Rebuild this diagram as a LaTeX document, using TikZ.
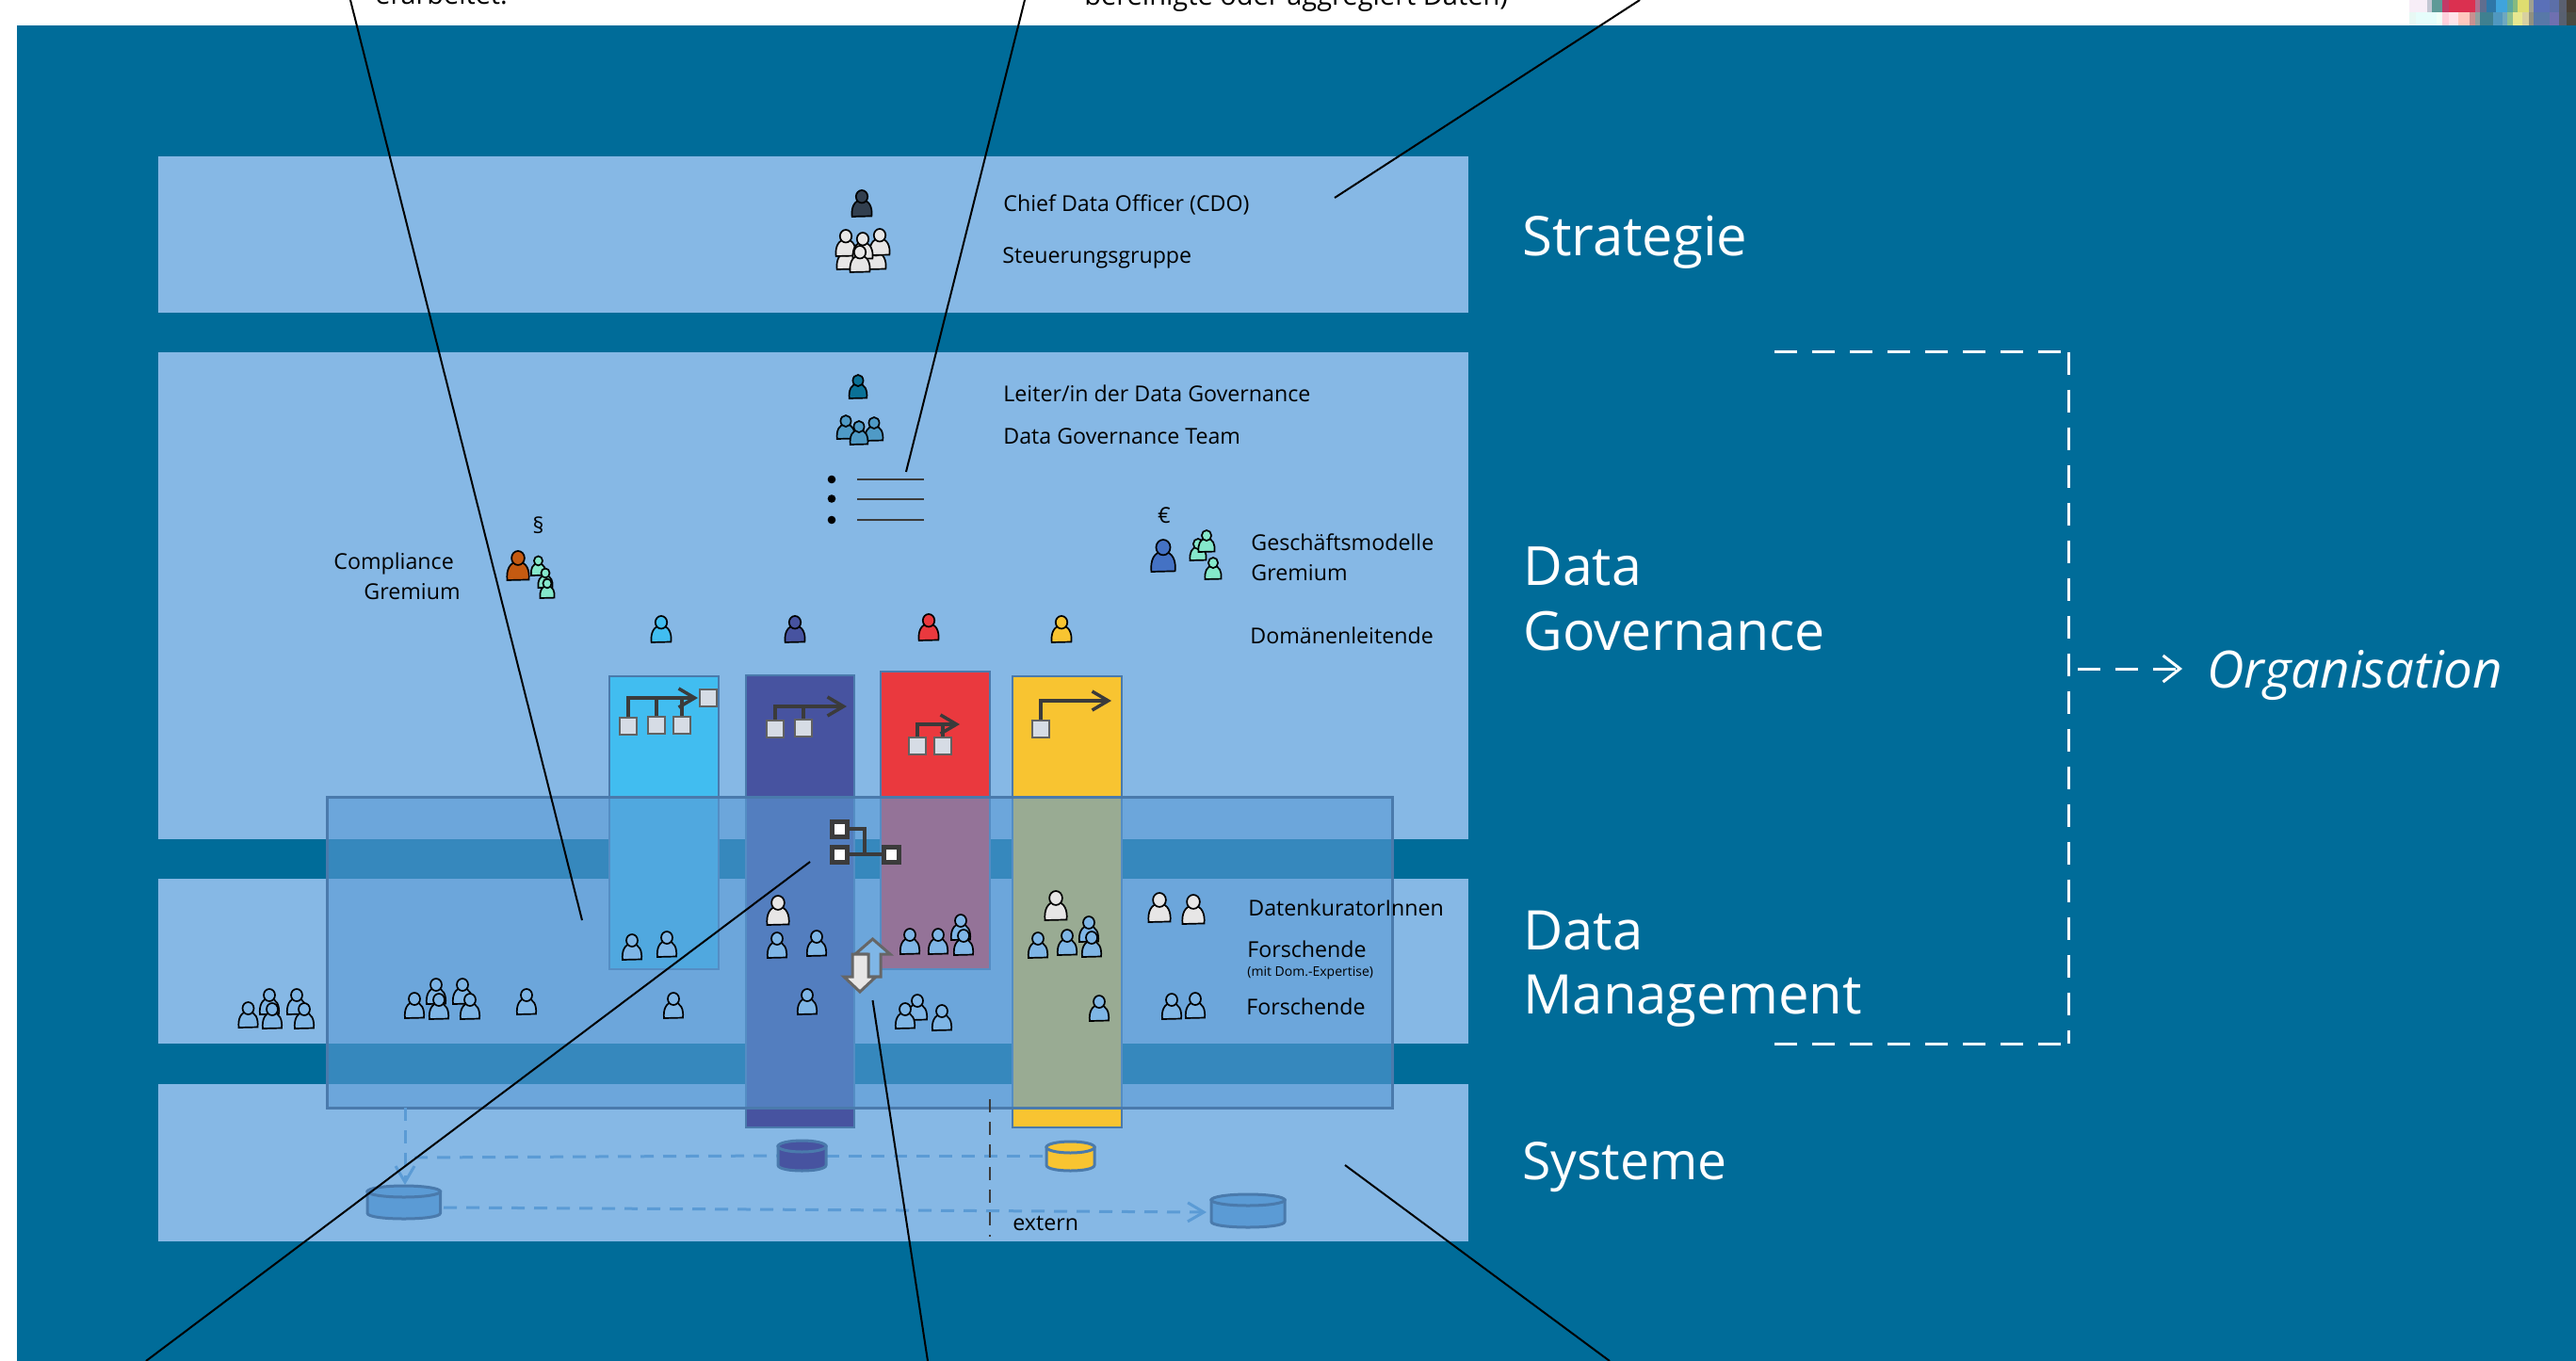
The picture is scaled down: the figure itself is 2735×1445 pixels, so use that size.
\documentclass[tikz,border=0pt]{standalone}
\usepackage{fontspec}
\setmainfont{Open Sans}
\usetikzlibrary{arrows.meta}
\definecolor{tealbg}{HTML}{006C99}
\definecolor{bandblue}{HTML}{86B8E5}
\definecolor{overblue}{HTML}{5B9BD5}
\definecolor{edgeblue}{HTML}{4A7AAC}
\definecolor{pblue}{HTML}{7FB6E6}
\definecolor{pwhite}{HTML}{E7E6E6}
\definecolor{pmint}{HTML}{85E8CB}
\definecolor{pslate}{HTML}{323F4F}
\definecolor{pteal}{HTML}{0A7197}
\definecolor{pteam}{HTML}{4F9AC6}
\definecolor{porange}{HTML}{C55A11}
\definecolor{proyal}{HTML}{4472C4}
\definecolor{colcyan}{HTML}{41BDF0}
\definecolor{colnavy}{HTML}{4753A0}
\definecolor{colred}{HTML}{EA393E}
\definecolor{colyellow}{HTML}{F8C431}
\definecolor{iconbox}{HTML}{D6DCE5}
\definecolor{icondark}{HTML}{3B3B3B}
\tikzset{
  lbl/.style={anchor=west,inner sep=0pt,text=black,font=\fontsize{11.6}{13}\selectfont},
  bigwhite/.style={anchor=base west,inner sep=0pt,text=white,font=\fontsize{29}{32}\selectfont},
  band/.style={fill=bandblue},
  colbox/.style={draw=edgeblue,line width=1.3pt},
  leader/.style={draw=black,line width=1pt},
  flowline/.style={draw=overblue,line width=1.5pt,dash pattern=on 7pt off 5pt},
  whitedash/.style={draw=white,line width=1.5pt,dash pattern=on 12pt off 8pt},
  orgline/.style={draw=icondark,line width=1.75pt},
  orgtip/.style={-{Straight Barb[length=8.5pt,width=10pt]}},
  orgbox/.style={draw=icondark!80,fill=iconbox,line width=1pt},
  netbox/.style={draw=icondark,fill=white,line width=2.5pt},
  updown/.style={draw=black!60,line width=1.5pt,line join=miter},
}
\newcommand{\person}[4]{%
  \begin{scope}[shift={(#1,#2)},scale=#3/27]
    \draw[black,line width=.85pt,fill=#4] (-10,0) .. controls (-11,-9) and (-8,-17) .. (0,-17) .. controls (8,-17) and (11,-9) .. (10,-.5) -- cycle;
    \draw[black,line width=.85pt,fill=#4] (0,-20.5) circle[x radius=6,y radius=6.5];
  \end{scope}}
\newcommand{\drum}[5]{%
  \draw[draw=edgeblue,line width=1.5pt,fill=#5] (#1,#3+6) -- (#1,#4-6) .. controls (#1,#4+2) and (#2,#4+2) .. (#2,#4-6) -- (#2,#3+6) -- cycle;
  \draw[draw=edgeblue,line width=1.5pt,fill=#5] (#1/2+#2/2,#3+6) circle[x radius=#2/2-#1/2,y radius=6];}
\newcommand{\orgsq}[2]{\draw[orgbox] (#1-9,#2-9) rectangle (#1+9,#2+9);}
\begin{document}
\begin{tikzpicture}[x=.5pt,y=-.5pt]
\useasboundingbox (0,0) rectangle (2735,1445);
\fill[tealbg] (18,27) rectangle (2735,1445);
\foreach \xa/\xb/\cc in {2558/2577/F7EEF7,2577/2582/C3C7D3,2582/2593/5E9A97,2593/2600/C23A68,2600/2628/DB3050,2628/2633/B0708F,2633/2640/5F6E8F,2640/2650/2E77A8,2650/2662/3FA4DC,2662/2668/5BA8A0,2668/2673/86BA80,2673/2685/DFDD70,2685/2690/A0A090,2690/2707/5A70B8,2707/2717/5C6FA8,2717/2725/5A6070,2725/2735/4A4035}
  {\definecolor{chip}{HTML}{\cc}\fill[chip] (\xa,0) rectangle (\xb,13.5);}
\foreach \xa/\xb/\cc in {2558/2565/E8F8F4,2565/2587/E6FDFB,2587/2593/F0FFF8,2593/2600/FFD0DC,2600/2610/FFE4EA,2610/2622/FFC8BE,2622/2628/C89090,2628/2633/8FA0A0,2633/2647/3F8090,2647/2657/5098C0,2657/2662/6EA8C0,2662/2668/90C090,2668/2678/E8E890,2678/2685/D8D0A0,2685/2690/909080,2690/2707/5878A8,2707/2717/6F70B0,2717/2725/586070,2725/2735/4A4A40}
  {\definecolor{chip}{HTML}{\cc}\fill[chip] (\xa,13.5) rectangle (\xb,27);}
\node[lbl,anchor=base west,font=\fontsize{14.4}{16}\selectfont] (topa) at (398,5) {erarbeitet.};
\node[lbl,anchor=base west,font=\fontsize{14.5}{16}\selectfont] (topb) at (1151,6) {bereinigte oder aggregiert Daten)};
\fill[band] (168,166) rectangle (1559,332);
\fill[band] (168,374) rectangle (1559,891);
\fill[band] (168,933) rectangle (1559,1108);
\fill[band] (168,1151) rectangle (1559,1318);
\draw[colbox,fill=colcyan] (647,718) rectangle (763,1029);
\draw[colbox,fill=colnavy] (792,717) rectangle (907,1197);
\draw[colbox,fill=colred] (935,713) rectangle (1051,1029);
\draw[colbox,fill=colyellow] (1075,718) rectangle (1191,1197);
\fill[overblue,fill opacity=.6] (347,846) rectangle (1478,1176);
\draw[edgeblue,line width=1.5pt] (347,846) rectangle (1478,1176);
\draw[orgline,orgtip] (667,771) -- (667,741) -- (741,741);
\draw[orgline] (697,741) -- (697,771);
\draw[orgline] (724,741) -- (724,771);
\orgsq{667}{771}\orgsq{697}{770}\orgsq{724}{770}\orgsq{752}{741}
\draw[orgline,orgtip] (823,774) -- (823,750) -- (899,750);
\draw[orgline] (853,750) -- (853,773);
\orgsq{823}{774}\orgsq{853}{773}
\draw[orgline,orgtip] (974,792) -- (974,769) -- (1019,769);
\draw[orgline] (1001,769) -- (1001,792);
\orgsq{974}{792}\orgsq{1001}{792}
\draw[orgline,orgtip] (1105,774) -- (1105,744) -- (1180,744);
\orgsq{1105}{774}
\draw[icondark,line width=2pt] (891,880) -- (918,880) -- (918,907);
\draw[icondark,line width=2pt] (891,907) -- (946,907);
\foreach \nx/\ny in {891/880,891/907,946/907}
  {\draw[netbox] (\nx-8,\ny-8) rectangle (\nx+8,\ny+8);}
\draw[updown,fill=pblue] (926.5,997) -- (945,1013) -- (935,1013) -- (935,1037) -- (920,1037) -- (920,1013) -- (908,1013) -- cycle;
\draw[updown,fill=pwhite] (913,1053) -- (930,1037) -- (922,1037) -- (922,1013) -- (905,1013) -- (905,1037) -- (896,1037) -- cycle;
\person{915}{230}{28}{pslate}
\foreach \px/\py in {899/286,930/286,898/272,934/271,916/275,913/289}
  {\person{\px}{\py}{28}{pwhite}}
\person{911}{423}{25}{pteal}
\foreach \px/\py in {898/466,928/468,912/472}
  {\person{\px}{\py}{25}{pteam}}
\foreach \by in {509,529.5,552}
  {\fill[black] (883,\by) circle[radius=4.3];
   \draw[icondark,line width=1pt] (910,\by) -- (981,\by);}
\person{550}{616}{31}{porange}
\foreach \px/\py in {571.5/611,579/624,581/635}
  {\person{\px}{\py}{20.5}{pmint}}
\person{702}{682}{28}{colcyan}
\person{844}{682}{28}{colnavy}
\person{986}{680}{28}{colred}
\person{1127}{682}{28}{colyellow}
\person{1235}{607}{34}{proyal}
\foreach \px/\py in {1272/595,1281/586,1288/615}
  {\person{\px}{\py}{23}{pmint}}
\foreach \px/\py in {826/982,1121/977,1231/979,1267/981}
  {\person{\px}{\py}{31}{pwhite}}
\foreach \px/\py in {286/1077,315/1077,263.5/1091,289/1092,323/1092,463/1066,491/1066,440/1081,466/1082,499/1082,559/1077,671/1019,708/1016,715/1081,825/1017,867/1015,857/1077,966/1013,996/1013,1020/998,1023/1014,974/1083,961/1092,1000/1094,1102/1017,1133/1014,1156/1000,1159/1016,1167/1084,1244/1082,1269/1081}
  {\person{\px}{\py}{27}{pblue}}
\coordinate (drumA) at (430,1258);
\coordinate (drumB) at (826,1227);
\coordinate (drumBr) at (877,1227);
\coordinate (drumC) at (1111,1227);
\coordinate (drumAr) at (471,1282);
\coordinate (drumD) at (1281,1287);
\coordinate (overbot) at (430,1176);
\coordinate (flowtop) at (440,1229);
\draw[flowline,-{Straight Barb[length=8.5pt,width=10pt]}] (overbot) -- (drumA);
\draw[flowline] (flowtop) -- (drumB);
\draw[flowline] (drumBr) -- (drumC);
\draw[flowline,-{Straight Barb[length=8.5pt,width=10pt]}] (drumAr) -- (drumD);
\drum{390}{467.5}{1259}{1294}{overblue}
\drum{826}{877}{1211}{1243}{colnavy}
\drum{1111}{1162}{1212}{1243}{colyellow}
\drum{1286}{1364}{1268}{1303}{overblue}
\coordinate (externtop) at (1051,1167);
\coordinate (externbot) at (1051,1313);
\draw[icondark,line width=1.25pt,dash pattern=on 7pt off 5pt] (externtop) -- (externbot);
\node[lbl] (cdo) at (1065,217) {Chief Data Officer (CDO)};
\node[lbl] (steuer) at (1064,274) {Steuerungsgruppe};
\node[lbl] (leiter) at (1065,418) {Leiter/in der Data Governance};
\node[lbl] (team) at (1065,463) {Data Governance Team};
\node[lbl] (comp) at (354,598) {Compliance};
\node[lbl] (compg) at (386,628) {Gremium};
\node[lbl,anchor=center] (para) at (571.5,558) {§};
\node[lbl,anchor=center] (euro) at (1236,547) {€};
\node[lbl] (gesch) at (1328,576) {Geschäftsmodelle};
\node[lbl] (geschg) at (1328,608) {Gremium};
\node[lbl] (domain) at (1327,675) {Domänenleitende};
\node[lbl] (kurator) at (1325,964) {DatenkuratorInnen};
\node[lbl] (forscha) at (1324,1008) {Forschende};
\node[lbl,font=\fontsize{7}{8}\selectfont] (mitdom) at (1324,1033) {(mit Dom.-Expertise)};
\node[lbl] (forschb) at (1323,1069) {Forschende};
\node[lbl] (extern) at (1075,1299) {extern};
\node[bigwhite] (strat) at (1616,271) {Strategie};
\node[bigwhite,font=\fontsize{28.6}{32}\selectfont] (dg) at (1617,621) {Data};
\node[bigwhite,font=\fontsize{28.6}{32}\selectfont] (gov) at (1617,690) {Governance};
\node[bigwhite] (dm) at (1617,1008) {Data};
\node[bigwhite] (mgmt) at (1617,1076) {Management};
\node[bigwhite,font=\fontsize{27.6}{32}\selectfont] (sys) at (1616,1252) {Systeme};
\node[bigwhite,font=\fontsize{27.3}{32}\selectfont\itshape] (orga) at (2343,730) {Organisation};
\coordinate (bracka) at (1884,373.5);
\coordinate (brackb) at (2196,373.5);
\coordinate (brackc) at (2196,1108);
\coordinate (brackd) at (1884,1108);
\coordinate (orgfrom) at (2206,710);
\coordinate (orgto) at (2317,710);
\draw[whitedash] (bracka) -- (brackb);
\draw[whitedash] (brackb) -- (brackc);
\draw[whitedash] (brackd) -- (brackc);
\draw[whitedash,-{Straight Barb[length=9pt,width=14pt]}] (orgfrom) -- (orgto);
\coordinate (lda) at (372,0);
\coordinate (ldb) at (618,977);
\coordinate (ldc) at (1088,0);
\coordinate (ldd) at (962,501);
\coordinate (lde) at (1741,0);
\coordinate (ldf) at (1417,210);
\coordinate (ldg) at (155,1445);
\coordinate (ldh) at (860,915);
\coordinate (ldi) at (985,1445);
\coordinate (ldj) at (926.5,1062);
\coordinate (ldk) at (1709,1445);
\coordinate (ldl) at (1428,1237);
\draw[leader] (lda) -- (ldb);
\draw[leader] (ldc) -- (ldd);
\draw[leader] (lde) -- (ldf);
\draw[leader] (ldg) -- (ldh);
\draw[leader] (ldi) -- (ldj);
\draw[leader] (ldk) -- (ldl);
\end{tikzpicture}
\end{document}
